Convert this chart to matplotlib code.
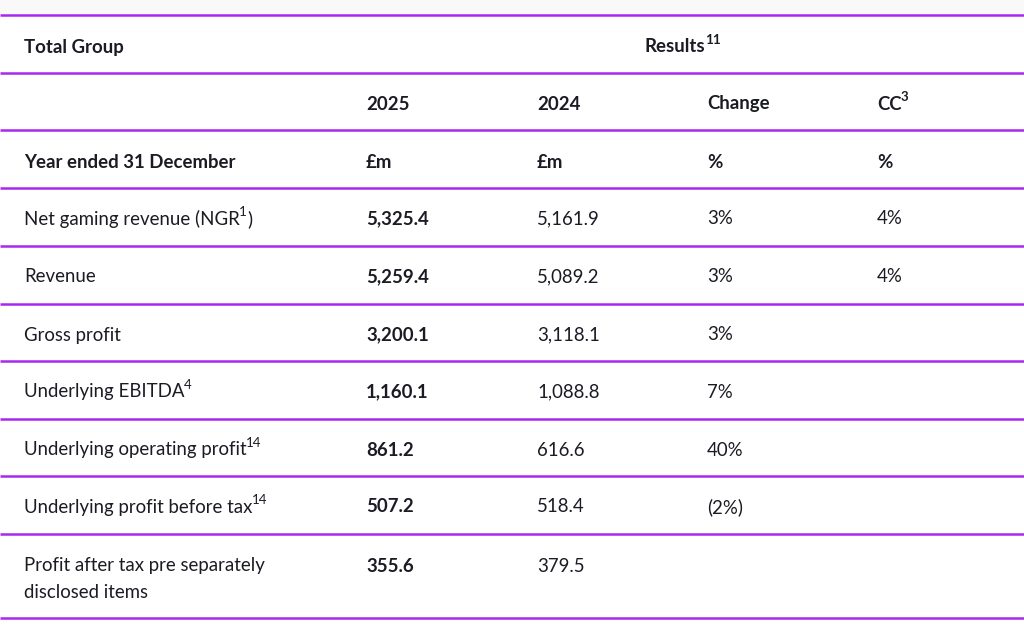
import matplotlib
matplotlib.use("Agg")
import matplotlib.pyplot as plt

# table content
header_left = "Total Group"
header_right = ("Results", "11")
col_years = ["2025", "2024", ("Change", ""), ("CC", "3")]
unit_label = "Year ended 31 December"
units = ["£m", "£m", "%", "%"]

row_labels = [
    ("Net gaming revenue (NGR", "1", ")"),
    ("Revenue", "", ""),
    ("Gross profit", "", ""),
    ("Underlying EBITDA", "4", ""),
    ("Underlying operating profit", "14", ""),
    ("Underlying profit before tax", "14", ""),
    ("Profit after tax pre separately\ndisclosed items", "", ""),
]
val_2025 = ["5,325.4", "5,259.4", "3,200.1", "1,160.1", "861.2", "507.2", "355.6"]
val_2024 = ["5,161.9", "5,089.2", "3,118.1", "1,088.8", "616.6", "518.4", "379.5"]
change = ["3%", "3%", "3%", "7%", "40%", "(2%)", ""]
cc = ["4%", "4%", "", "", "", "", ""]

W, H = 1024, 625
LINE = "#A928F0"
TXT = "#1b1b24"
FONT = "Lato"
FS = 13.4

fig = plt.figure(figsize=(W / 100, H / 100), dpi=100)
fig.patch.set_facecolor("white")
ax = fig.add_axes([0, 0, 1, 1])
ax.set_xlim(0, W)
ax.set_ylim(H, 0)
ax.axis("off")

# faint grey strip above the table
ax.axhspan(0, 14, color="#f9f9fa", lw=0)

col_x = [366, 537, 707, 877]
lines_y = [15, 73, 130, 188, 246, 304, 361, 419, 476, 534, 618]
for y in lines_y:
    ax.plot([0, W], [y, y], color=LINE, lw=1.8, solid_capstyle="butt")

fig.canvas.draw()
renderer = fig.canvas.get_renderer()


def right_edge(t):
    bb = t.get_window_extent(renderer)
    return ax.transData.inverted().transform((bb.x1, bb.y1))[0]


def put(x, y, s, sup="", tail="", bold=False):
    w = "bold" if bold else "normal"
    t = ax.text(x, y, s, fontsize=FS, fontweight=w, color=TXT, family=FONT,
                va="center", ha="left")
    if not sup:
        return
    st = ax.text(right_edge(t) - 0.5, y - 7, sup, fontsize=FS * 0.72,
                 fontweight=w, color=TXT, family=FONT, va="center", ha="left")
    if tail:
        ax.text(right_edge(st), y, tail, fontsize=FS, fontweight=w, color=TXT,
                family=FONT, va="center", ha="left")


# header rows
put(24, 47, header_left, bold=True)
put(645, 47, header_right[0], header_right[1], bold=True)
for x, c in zip(col_x, col_years):
    if isinstance(c, tuple):
        put(x, 104, c[0], c[1], bold=True)
    else:
        put(x, 104, c, bold=True)
put(24, 162, unit_label, bold=True)
for x, u in zip(col_x, units):
    put(x, 162, u, bold=True)

# body rows
row_y = [219, 277, 335, 392, 450, 507, 566]
for i, y in enumerate(row_y):
    lab, sup, tail = row_labels[i]
    if "\n" in lab:
        first, second = lab.split("\n")
        put(24, y, first)
        put(24, y + 27, second)
    else:
        put(24, y, lab, sup, tail)
    put(col_x[0], y, val_2025[i], bold=True)
    put(col_x[1], y, val_2024[i])
    if change[i]:
        put(col_x[2], y, change[i])
    if cc[i]:
        put(col_x[3], y, cc[i])

fig.savefig("out.png", dpi=100, facecolor="white")
